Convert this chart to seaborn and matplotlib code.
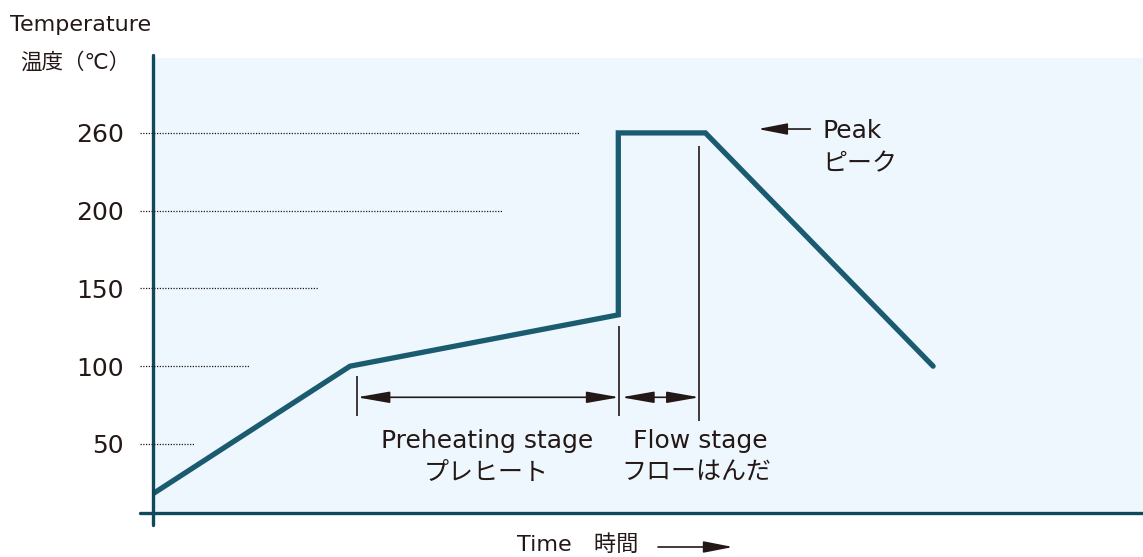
import matplotlib.pyplot as plt
import seaborn as sns
import numpy as np
import pandas as pd

# reflow profile (time in arbitrary units, temperature in deg C)
time = [0, 19.9, 47.0, 47.0, 55.8, 78.8]
temp = [18, 100, 133, 260, 260, 100]
yticks = [50, 100, 150, 200, 260]
guide_end = [4.2, 9.8, 16.7, 35.3, 43.1]   # how far the dotted guides run
stages = [20.6, 47.1, 55.2]                # preheat start, flow start, flow end

df = pd.DataFrame({'time': time, 'temp': temp})

sns.set_style("white")
plt.rcParams['font.family'] = ['DejaVu Sans', 'Noto Sans CJK JP']

ink = '#231815'
curve = '#1b5b6f'
axis_col = '#0e4a5c'

W, H = 1143, 557
fig = plt.figure(figsize=(W / 100, H / 100), dpi=100)
ax = fig.add_axes([153 / W, 1 - 513 / H, 990 / W, 455 / H])
ax.set_facecolor('#eef7fd')


# chart is not to scale above 200 degrees
def fwd(t):
    t = np.asarray(t, dtype=float)
    return np.where(t <= 200, t, 200 + (t - 200) * 50 / 60)


def inv(v):
    v = np.asarray(v, dtype=float)
    return np.where(v <= 200, v, 200 + (v - 200) * 60 / 50)


ax.set_yscale('function', functions=(fwd, inv))
ax.set_xlim(0, 100)
ax.set_ylim(5.6, 317.8)

sns.lineplot(data=df, x='time', y='temp', sort=False, estimator=None, errorbar=None,
             color=curve, lw=3.8, ax=ax)
ax.lines[-1].set_solid_joinstyle('miter')

for s in ax.spines.values():
    s.set_visible(False)
ax.set_xticks([])
ax.set_yticks(yticks)
ax.set_yticklabels([str(v) for v in yticks], fontsize=18, color=ink)
ax.tick_params(axis='y', length=0, pad=21)
ax.set_xlabel('')
ax.set_ylabel('')

# axis lines
ax.plot([0, 0], [-0.026, 1.007], transform=ax.transAxes, color=axis_col, lw=2.4, clip_on=False)
ax.plot([-0.013, 1.0], [0, 0], transform=ax.transAxes, color=axis_col, lw=2.4, clip_on=False)

# dotted guides
g = ax.hlines(yticks, -1.3, guide_end, colors=ink, lw=0.9, linestyles=(0, (1, 1.2)))
g.set_clip_on(False)

# stage markers
ax.vlines(stages[0], 68, 94, colors=ink, lw=1.2)
ax.vlines(stages[1], 68, 126, colors=ink, lw=1.2)
ax.vlines(stages[2], 65, 250, colors=ink, lw=1.2)

arr = dict(arrowstyle='<|-|>,head_length=2.0,head_width=0.35', color=ink, lw=1.2,
           mutation_scale=10, shrinkA=0, shrinkB=0)
ax.annotate('', xy=(stages[0], 80), xytext=(stages[1], 80), arrowprops=arr)
ax.annotate('', xy=(stages[1] + 0.2, 80), xytext=(stages[2], 80), arrowprops=arr)

ax.text(33.7, 52, 'Preheating stage', ha='center', va='center', fontsize=18, color=ink)
ax.text(33.7, 31.4, 'プレヒート', ha='center', va='center', fontsize=18, color=ink)
ax.text(55.3, 52, 'Flow stage', ha='center', va='center', fontsize=18, color=ink)
ax.text(54.9, 31.4, 'フローはんだ', ha='center', va='center', fontsize=18, color=ink)

ax.annotate('', xy=(61.1, 263), xytext=(66.4, 263),
            arrowprops=dict(arrowstyle='-|>,head_length=1.8,head_width=0.35', color=ink,
                            lw=1.2, mutation_scale=10, shrinkA=0, shrinkB=0))
ax.text(67.6, 261.5, 'Peak', ha='left', va='center', fontsize=18, color=ink)
ax.text(67.6, 236, 'ピーク', ha='left', va='center', fontsize=18, color=ink)

# outer labels
fig.text(10 / W, 1 - 25 / H, 'Temperature', ha='left', va='center', fontsize=16, color=ink)
fig.text(20 / W, 1 - 62 / H, '温度（℃）', ha='left', va='center', fontsize=15.5, color=ink)
fig.text(517 / W, 1 - 545 / H, 'Time　時間', ha='left', va='center', fontsize=16, color=ink)
fig.patches.append(plt.matplotlib.patches.FancyArrowPatch(
    (658 / W, 1 - 547 / H), (733 / W, 1 - 547 / H), transform=fig.transFigure,
    arrowstyle='-|>,head_length=1.8,head_width=0.35', mutation_scale=10,
    color=ink, lw=1.2, shrinkA=0, shrinkB=0))

fig.savefig('out.png', dpi=100, facecolor='white')
